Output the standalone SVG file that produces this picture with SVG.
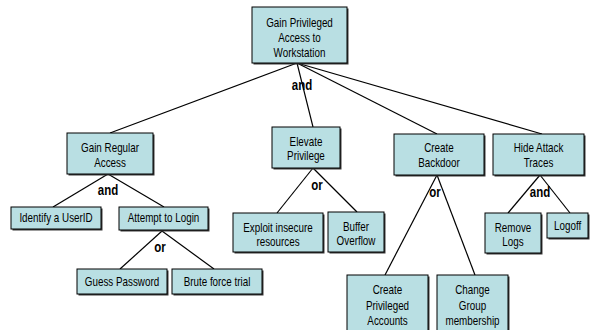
<svg xmlns="http://www.w3.org/2000/svg" width="592" height="330" viewBox="0 0 592 330">
<style>
.box{fill:#B9DFE3;stroke:#000;stroke-width:1}
.sh{fill:#3a3a3a}
.t,.op{font-family:"Liberation Sans",Arial,sans-serif;fill:#000;text-anchor:middle;transform-box:fill-box;transform-origin:center;transform:scaleX(0.82)}
.t{font-size:12px}
.op{font-size:14px;font-weight:bold}
.c line{stroke:#000;stroke-width:1.2}
</style>
<rect width="592" height="330" fill="#fff"/>
<g class="c" id="connectors">
<line x1="297" y1="63" x2="110" y2="133"/>
<line x1="297" y1="63" x2="313" y2="127"/>
<line x1="297" y1="63" x2="437" y2="134"/>
<line x1="297" y1="63" x2="542" y2="134"/>
<line x1="108" y1="174" x2="53" y2="207"/>
<line x1="108" y1="174" x2="164" y2="207"/>
<line x1="162" y1="231" x2="120" y2="269"/>
<line x1="162" y1="231" x2="214" y2="269"/>
<line x1="313" y1="168" x2="277" y2="213"/>
<line x1="313" y1="168" x2="357" y2="212"/>
<line x1="437" y1="175" x2="385" y2="275"/>
<line x1="437" y1="175" x2="475" y2="275"/>
<line x1="540" y1="175" x2="508" y2="213"/>
<line x1="540" y1="175" x2="570" y2="213"/>
</g>
<g id="ops">
<text class="op" x="302" y="90">and</text>
<text class="op" x="108" y="195">and</text>
<text class="op" x="160" y="252">or</text>
<text class="op" x="317" y="190">or</text>
<text class="op" x="435" y="197">or</text>
<text class="op" x="540" y="197">and</text>
</g>
<g id="root">
<rect class="sh" x="253.5" y="8.5" width="95" height="56"/>
<rect class="box" x="252" y="7" width="95" height="56"/>
<text class="t" x="299.5" y="27">Gain Privileged</text>
<text class="t" x="299.5" y="42">Access to</text>
<text class="t" x="299.5" y="57">Workstation</text>
</g>
<g id="gainRegular">
<rect class="sh" x="68.5" y="134.5" width="86" height="41"/>
<rect class="box" x="67" y="133" width="86" height="41"/>
<text class="t" x="110" y="152">Gain Regular</text>
<text class="t" x="110" y="167">Access</text>
</g>
<g id="identify">
<rect class="sh" x="12.5" y="208.5" width="90" height="22"/>
<rect class="box" x="11" y="207" width="90" height="22"/>
<text class="t" x="56" y="222">Identify a UserID</text>
</g>
<g id="attempt">
<rect class="sh" x="120.5" y="208.5" width="89" height="23"/>
<rect class="box" x="119" y="207" width="89" height="23"/>
<text class="t" x="163.5" y="222">Attempt to Login</text>
</g>
<g id="guess">
<rect class="sh" x="78.5" y="270.5" width="90" height="25"/>
<rect class="box" x="77" y="269" width="90" height="25"/>
<text class="t" x="122" y="286">Guess Password</text>
</g>
<g id="brute">
<rect class="sh" x="173.5" y="270.5" width="90" height="25"/>
<rect class="box" x="172" y="269" width="90" height="25"/>
<text class="t" x="217" y="286">Brute force trial</text>
</g>
<g id="elevate">
<rect class="sh" x="273.5" y="128.5" width="68" height="41"/>
<rect class="box" x="272" y="127" width="68" height="41"/>
<text class="t" x="306" y="146">Elevate</text>
<text class="t" x="306" y="160">Privilege</text>
</g>
<g id="exploit">
<rect class="sh" x="234.5" y="214.5" width="90" height="39"/>
<rect class="box" x="233" y="213" width="90" height="39"/>
<text class="t" x="278" y="232">Exploit insecure</text>
<text class="t" x="278" y="246">resources</text>
</g>
<g id="buffer">
<rect class="sh" x="329.5" y="213.5" width="56" height="40"/>
<rect class="box" x="328" y="212" width="56" height="40"/>
<text class="t" x="356" y="231">Buffer</text>
<text class="t" x="356" y="245">Overflow</text>
</g>
<g id="backdoor">
<rect class="sh" x="395.5" y="135.5" width="90" height="41"/>
<rect class="box" x="394" y="134" width="90" height="41"/>
<text class="t" x="439" y="152">Create</text>
<text class="t" x="439" y="167">Backdoor</text>
</g>
<g id="createPriv">
<rect class="sh" x="348.5" y="276.5" width="81" height="58"/>
<rect class="box" x="347" y="275" width="81" height="58"/>
<text class="t" x="387.5" y="294">Create</text>
<text class="t" x="387.5" y="310">Privileged</text>
<text class="t" x="387.5" y="325">Accounts</text>
</g>
<g id="changeGroup">
<rect class="sh" x="438.5" y="276.5" width="71" height="58"/>
<rect class="box" x="437" y="275" width="71" height="58"/>
<text class="t" x="472.5" y="294">Change</text>
<text class="t" x="472.5" y="310">Group</text>
<text class="t" x="472.5" y="325">membership</text>
</g>
<g id="hide">
<rect class="sh" x="494.5" y="135.5" width="91" height="41"/>
<rect class="box" x="493" y="134" width="91" height="41"/>
<text class="t" x="538.5" y="152">Hide Attack</text>
<text class="t" x="538.5" y="167">Traces</text>
</g>
<g id="removeLogs">
<rect class="sh" x="486.5" y="214.5" width="56" height="40"/>
<rect class="box" x="485" y="213" width="56" height="40"/>
<text class="t" x="513" y="232">Remove</text>
<text class="t" x="513" y="246">Logs</text>
</g>
<g id="logoff">
<rect class="sh" x="548.5" y="214.5" width="41" height="25"/>
<rect class="box" x="547" y="213" width="41" height="25"/>
<text class="t" x="567.5" y="230">Logoff</text>
</g>
</svg>
